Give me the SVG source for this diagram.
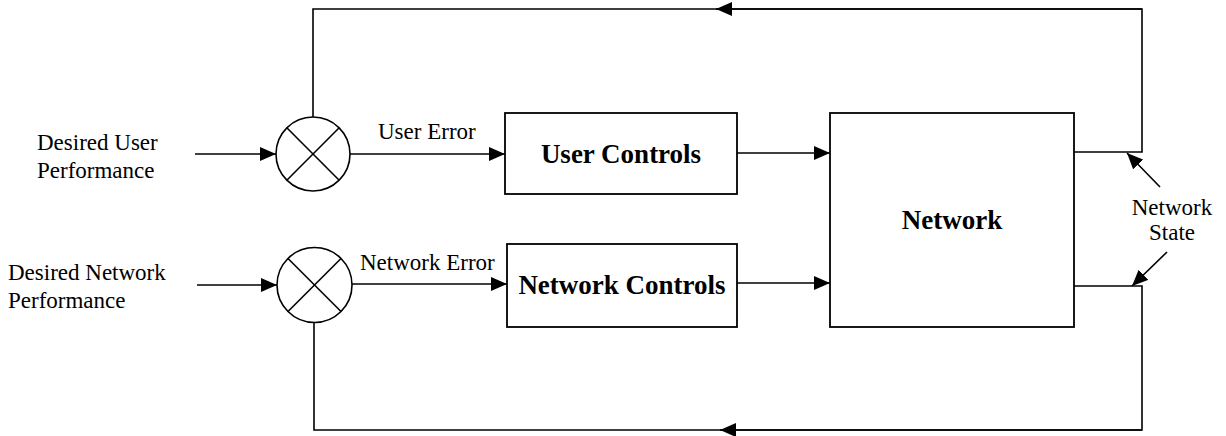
<svg xmlns="http://www.w3.org/2000/svg" width="1226" height="436" viewBox="0 0 1226 436">
<style>
.ln{fill:none;stroke:#000;stroke-width:1.6}
.bx{fill:#fff;stroke:#000;stroke-width:1.8}
.t{font-family:"Liberation Serif","Times New Roman",serif;font-size:23px;fill:#000}
.b{font-family:"Liberation Serif","Times New Roman",serif;font-size:27px;font-weight:bold;fill:#000}
</style>
<defs>
<marker id="ah" viewBox="0 0 16 14" refX="16" refY="7" markerWidth="16" markerHeight="14" markerUnits="userSpaceOnUse" orient="auto">
<path d="M0,0 L16,7 L0,14 Z" fill="#000"/>
</marker>
</defs>
<g id="connectors">
<line class="ln" x1="195" y1="154" x2="276" y2="154" marker-end="url(#ah)"/>
<line class="ln" x1="197" y1="285" x2="277" y2="285" marker-end="url(#ah)"/>
<line class="ln" x1="350" y1="154" x2="505" y2="154" marker-end="url(#ah)"/>
<line class="ln" x1="352" y1="284" x2="507" y2="284" marker-end="url(#ah)"/>
<line class="ln" x1="737" y1="153" x2="830" y2="153" marker-end="url(#ah)"/>
<line class="ln" x1="737" y1="283" x2="830" y2="283" marker-end="url(#ah)"/>
<polyline class="ln" points="1074,152 1142,152 1142,9 313,9 313,117"/>
<line class="ln" x1="1142" y1="9" x2="716" y2="9" marker-end="url(#ah)"/>
<polyline class="ln" points="1074,286 1142,286 1142,430 314,430 314,322"/>
<line class="ln" x1="1142" y1="430" x2="720" y2="430" marker-end="url(#ah)"/>
<line class="ln" x1="1160" y1="187" x2="1127" y2="153" marker-end="url(#ah)"/>
<line class="ln" x1="1167" y1="252" x2="1132" y2="286" marker-end="url(#ah)"/>
</g>
<g id="sum-user">
<circle class="ln" cx="313" cy="154" r="37"/>
<line class="ln" x1="286.8" y1="127.8" x2="339.2" y2="180.2"/>
<line class="ln" x1="339.2" y1="127.8" x2="286.8" y2="180.2"/>
</g>
<g id="sum-network">
<circle class="ln" cx="314.5" cy="285" r="37.5"/>
<line class="ln" x1="288" y1="258.5" x2="341" y2="311.5"/>
<line class="ln" x1="341" y1="258.5" x2="288" y2="311.5"/>
</g>
<g id="user-controls">
<rect class="bx" x="505" y="113" width="232" height="81"/>
<text class="b" x="621" y="163" text-anchor="middle">User Controls</text>
</g>
<g id="network-controls">
<rect class="bx" x="507" y="244" width="230" height="83"/>
<text class="b" x="622" y="294" text-anchor="middle">Network Controls</text>
</g>
<g id="network">
<rect class="bx" x="830" y="113" width="244" height="214"/>
<text class="b" x="952" y="229" text-anchor="middle">Network</text>
</g>
<g id="labels">
<text class="t" x="37" y="150">Desired User</text>
<text class="t" x="37" y="178">Performance</text>
<text class="t" x="8" y="280">Desired Network</text>
<text class="t" x="8" y="308">Performance</text>
<text class="t" x="378" y="139">User Error</text>
<text class="t" x="360" y="270">Network Error</text>
<text class="t" x="1172" y="215" text-anchor="middle">Network</text>
<text class="t" x="1172" y="240" text-anchor="middle">State</text>
</g>
</svg>
